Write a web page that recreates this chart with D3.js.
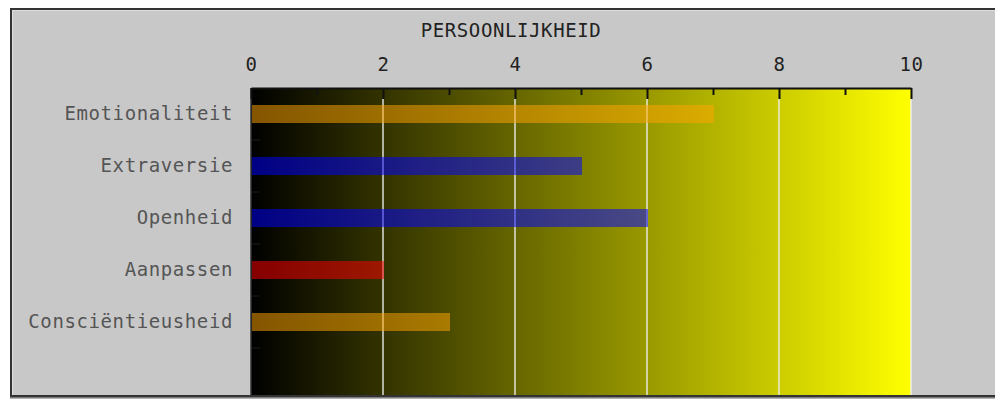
<!DOCTYPE html>
<html>
<head>
<meta charset="utf-8">
<script src="https://cdn.jsdelivr.net/npm/d3@7"></script>
<style>
  body { margin: 0; background: #ffffff; }
  svg text { font-family: "DejaVu Sans Mono", monospace; font-size: 19px; letter-spacing: 0.6px; }
</style>
</head>
<body>
<div id="chart"></div>
<script>
const title = "PERSOONLIJKHEID";
const categories = ["Emotionaliteit", "Extraversie", "Openheid", "Aanpassen", "Consciëntieusheid"];
const values = [7, 5, 6, 2, 3];
const barColors = ["#ffa500", "#0000ff", "#0000ff", "#ff0000", "#ffa500"];
const majorTicks = [0, 2, 4, 6, 8, 10];
const minorTicks = [1, 3, 5, 7, 9];
const gridTicks = [2, 4, 6, 8, 10];

const width = 995;
const height = 400;
const frameLeft = 10, frameTop = 8, frameBottom = 396;
const plotLeft = 251, plotRight = 911, plotTop = 88;

const svg = d3.select("#chart").append("svg")
  .attr("width", width)
  .attr("height", height);

const defs = svg.append("defs");
const grad = defs.append("linearGradient")
  .attr("id", "bg")
  .attr("x1", "0%").attr("x2", "100%").attr("y1", "0%").attr("y2", "0%");
grad.append("stop").attr("offset", "0%").attr("stop-color", "#000000");
grad.append("stop").attr("offset", "100%").attr("stop-color", "#ffff00");

defs.append("clipPath").attr("id", "frameClip")
  .append("rect")
  .attr("x", frameLeft).attr("y", frameTop)
  .attr("width", width).attr("height", frameBottom - frameTop);

// frame
svg.append("rect")
  .attr("x", frameLeft + 1).attr("y", frameTop + 1)
  .attr("width", width).attr("height", frameBottom - frameTop)
  .attr("fill", "#c8c8c8")
  .attr("stroke", "#333333")
  .attr("stroke-width", 2);
svg.append("path")
  .attr("d", `M${frameLeft + 2.5},${frameBottom} V${frameTop + 2.5} H${width}`)
  .attr("fill", "none")
  .attr("stroke", "#dedede")
  .attr("stroke-width", 1);

const x = d3.scaleLinear().domain([0, 10]).range([plotLeft, plotRight]);
const y = d3.scaleBand().domain(categories).range([plotTop, plotTop + 52 * categories.length]);

const g = svg.append("g").attr("clip-path", "url(#frameClip)");

g.append("rect")
  .attr("x", plotLeft).attr("y", plotTop)
  .attr("width", plotRight - plotLeft).attr("height", frameBottom - plotTop)
  .attr("fill", "url(#bg)");

// grid lines
g.selectAll(".grid")
  .data(gridTicks)
  .join("line")
  .attr("x1", d => x(d)).attr("x2", d => x(d))
  .attr("y1", plotTop + 11).attr("y2", frameBottom)
  .attr("stroke", "#f0f0f0")
  .attr("stroke-opacity", 0.9)
  .attr("stroke-width", 1.5);

// bars
const barH = 18;
g.selectAll(".bar")
  .data(categories)
  .join("rect")
  .attr("x", x(0) + 1)
  .attr("y", d => y(d) + y.bandwidth() / 2 - barH / 2)
  .attr("width", (d, i) => x(values[i]) - x(0))
  .attr("height", barH)
  .attr("fill", (d, i) => barColors[i])
  .attr("fill-opacity", 0.52);

// y axis ticks at band edges
g.selectAll(".ytick")
  .data(categories)
  .join("line")
  .attr("x1", plotLeft).attr("x2", plotLeft + 9)
  .attr("y1", d => y(d) + y.bandwidth()).attr("y2", d => y(d) + y.bandwidth())
  .attr("stroke", "#1c1c1c")
  .attr("stroke-width", 1);

g.append("line")
  .attr("x1", plotLeft).attr("x2", plotLeft)
  .attr("y1", plotTop).attr("y2", frameBottom)
  .attr("stroke", "#333333")
  .attr("stroke-width", 1.5);

// top axis
const axisMajor = d3.axisTop(x).tickValues(majorTicks).tickSizeInner(-11).tickSizeOuter(0).tickPadding(17);
const axisG = svg.append("g").attr("transform", `translate(0,${plotTop})`).call(axisMajor);
axisG.select(".domain").attr("stroke", "#111").attr("stroke-width", 2);
axisG.selectAll(".tick line").attr("stroke", "#111").attr("stroke-width", 2);
axisG.selectAll(".tick text")
  .attr("fill", "#222")
  .attr("font-family", null)
  .attr("font-size", null);

const axisMinor = d3.axisTop(x).tickValues(minorTicks).tickSizeInner(-7).tickSizeOuter(0).tickFormat("");
const minorG = svg.append("g").attr("transform", `translate(0,${plotTop})`).call(axisMinor);
minorG.select(".domain").remove();
minorG.selectAll(".tick line").attr("stroke", "#111").attr("stroke-width", 2);

// category labels
svg.selectAll(".label")
  .data(categories)
  .join("text")
  .attr("x", plotLeft - 18)
  .attr("y", d => y(d) + y.bandwidth() / 2 + 6)
  .attr("text-anchor", "end")
  .attr("fill", "#555")
  .text(d => d);

svg.append("text")
  .attr("x", 511)
  .attr("y", 37)
  .attr("text-anchor", "middle")
  .attr("fill", "#222")
  .text(title);

// bottom border
svg.append("line")
  .attr("x1", frameLeft).attr("x2", width)
  .attr("y1", frameBottom).attr("y2", frameBottom)
  .attr("stroke", "#333").attr("stroke-width", 2);
svg.append("line")
  .attr("x1", frameLeft).attr("x2", width)
  .attr("y1", frameBottom + 2).attr("y2", frameBottom + 2)
  .attr("stroke", "#999").attr("stroke-width", 1.5);
</script>
</body>
</html>
